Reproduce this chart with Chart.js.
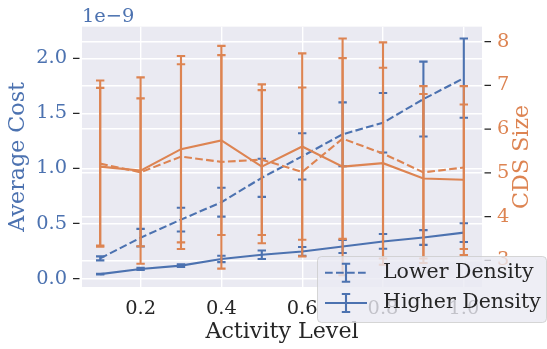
<!DOCTYPE html>
<html>
<head>
<meta charset="utf-8">
<script src="https://cdn.jsdelivr.net/npm/chart.js@4.4.1/dist/chart.umd.min.js"></script>
<style>
  html, body { margin: 0; padding: 0; background: #fff; }
  #wrap { width: 547px; height: 349px; }
</style>
</head>
<body>
<div id="wrap"><canvas id="dataPlot" width="547" height="349"></canvas></div>
<script>
const activityLevels = [0.1, 0.2, 0.3, 0.4, 0.5, 0.6, 0.7, 0.8, 0.9, 1.0];

// average cost, in units of 1e-9
const COST_UNIT = 1e-9;
const costLowerDensity    = [0.183, 0.371, 0.535, 0.693, 0.915, 1.11, 1.31, 1.415, 1.63, 1.82];
const costLowerDensityErr = [0.018, 0.08, 0.108, 0.131, 0.173, 0.21, 0.29, 0.27, 0.34, 0.36];
const costHigherDensity    = [0.04, 0.087, 0.117, 0.178, 0.216, 0.246, 0.291, 0.337, 0.373, 0.417];
const costHigherDensityErr = [0.004, 0.01, 0.012, 0.029, 0.038, 0.04, 0.059, 0.067, 0.067, 0.085];

// CDS size
const cdsLowerDensity    = [5.21, 5.01, 5.37, 5.25, 5.30, 5.02, 5.78, 5.44, 5.01, 5.12];
const cdsLowerDensityErr = [1.90, 1.69, 2.11, 2.44, 1.72, 1.93, 2.29, 2.54, 1.97, 1.86];
const cdsHigherDensity    = [5.14, 5.05, 5.54, 5.74, 5.14, 5.60, 5.14, 5.22, 4.87, 4.84];
const cdsHigherDensityErr = [1.80, 2.13, 2.13, 2.16, 1.75, 2.13, 2.48, 2.18, 1.93, 1.72];

const xTicks = [0.2, 0.4, 0.6, 0.8, 1.0];
const costTicks = [0, 0.5, 1.0, 1.5, 2.0];
const cdsTicks = [3, 4, 5, 6, 7, 8];

const BLUE = '#4C72B0';
const ORANGE = '#DD8452';
const INK = '#262626';
const SERIF = '"DejaVu Serif", serif';
const LW = 2.1;
const DASH = [7.7, 3.3];

const points = (ys, k) => activityLevels.map((x, i) => ({ x: x, y: ys[i] * k }));

// draw matplotlib-like error bars right after each line
const errorBars = {
  id: 'errorBars',
  afterDatasetDraw(chart, args) {
    const ds = chart.data.datasets[args.index];
    if (!ds.errors) return;
    const ctx = chart.ctx, a = chart.chartArea;
    const yScale = chart.scales[ds.yAxisID];
    ctx.save();
    ctx.beginPath();
    ctx.rect(a.left, a.top, a.right - a.left, a.bottom - a.top);
    ctx.clip();
    ctx.strokeStyle = ds.borderColor;
    ctx.lineWidth = LW;
    ctx.setLineDash([]);
    args.meta.data.forEach((pt, i) => {
      const v = ds.data[i].y, e = ds.errors[i];
      const top = yScale.getPixelForValue(v + e);
      const bot = yScale.getPixelForValue(v - e);
      ctx.beginPath();
      ctx.moveTo(pt.x, top); ctx.lineTo(pt.x, bot);
      ctx.moveTo(pt.x - 4.2, top); ctx.lineTo(pt.x + 4.2, top);
      ctx.moveTo(pt.x - 4.2, bot); ctx.lineTo(pt.x + 4.2, bot);
      ctx.stroke();
    });
    ctx.restore();
  }
};

const plotBackground = {
  id: 'plotBackground',
  beforeDraw(chart) {
    const ctx = chart.ctx, a = chart.chartArea;
    ctx.save();
    ctx.fillStyle = '#EAEAF2';
    ctx.fillRect(a.left, a.top, a.right - a.left, a.bottom - a.top);
    ctx.restore();
  }
};

function legendHandle(ctx, y, dashed) {
  ctx.strokeStyle = BLUE;
  ctx.lineWidth = LW;
  ctx.setLineDash(dashed ? DASH : []);
  ctx.beginPath();
  ctx.moveTo(325, y); ctx.lineTo(367, y);
  ctx.stroke();
  ctx.setLineDash([]);
  ctx.beginPath();
  ctx.moveTo(346, y - 9); ctx.lineTo(346, y + 9);
  ctx.moveTo(341.8, y - 9); ctx.lineTo(350.2, y - 9);
  ctx.moveTo(341.8, y + 9); ctx.lineTo(350.2, y + 9);
  ctx.stroke();
}

const decorations = {
  id: 'decorations',
  afterDraw(chart) {
    const ctx = chart.ctx;
    const left = chart.scales.yCost, right = chart.scales.yCds;
    ctx.save();
    // tick marks on the y axes
    ctx.strokeStyle = INK;
    ctx.lineWidth = 1.25;
    ctx.beginPath();
    left.ticks.forEach(t => {
      const y = left.getPixelForValue(t.value);
      ctx.moveTo(73, y); ctx.lineTo(79.5, y);
    });
    right.ticks.forEach(t => {
      const y = right.getPixelForValue(t.value);
      ctx.moveTo(484.5, y); ctx.lineTo(491, y);
    });
    ctx.stroke();

    // offset text
    ctx.fillStyle = BLUE;
    ctx.font = '19.4px ' + SERIF;
    ctx.textAlign = 'left';
    ctx.textBaseline = 'alphabetic';
    ctx.fillText('1e\u22129', 82, 22);

    // right axis title, reading bottom to top
    ctx.save();
    ctx.translate(522, (chart.chartArea.top + chart.chartArea.bottom) / 2);
    ctx.rotate(-Math.PI / 2);
    ctx.fillStyle = ORANGE;
    ctx.font = '22.2px ' + SERIF;
    ctx.textAlign = 'center';
    ctx.textBaseline = 'middle';
    ctx.fillText('CDS Size', 0, 0);
    ctx.restore();

    // legend
    ctx.globalAlpha = 0.8;
    ctx.fillStyle = '#EAEAF2';
    ctx.strokeStyle = '#CCCCCC';
    ctx.lineWidth = 1;
    ctx.beginPath();
    if (ctx.roundRect) ctx.roundRect(317.5, 256.5, 229, 66, 4);
    else ctx.rect(317.5, 256.5, 229, 66);
    ctx.fill();
    ctx.stroke();
    ctx.globalAlpha = 1;
    legendHandle(ctx, 272.7, true);
    legendHandle(ctx, 303, false);
    ctx.fillStyle = INK;
    ctx.font = '20.5px ' + SERIF;
    ctx.textAlign = 'left';
    ctx.textBaseline = 'middle';
    ctx.fillText('Lower Density', 383, 272.7);
    ctx.fillText('Higher Density', 383, 303);
    ctx.restore();
  }
};

const lineStyle = { borderWidth: LW, pointRadius: 0, fill: false, tension: 0 };

new Chart(document.getElementById('dataPlot'), {
  type: 'line',
  data: {
    datasets: [
      Object.assign({
        label: 'Lower Density',
        data: points(costLowerDensity, COST_UNIT),
        errors: costLowerDensityErr.map(v => v * COST_UNIT),
        yAxisID: 'yCost', borderColor: BLUE, borderDash: DASH, order: 2
      }, lineStyle),
      Object.assign({
        label: 'Higher Density',
        data: points(costHigherDensity, COST_UNIT),
        errors: costHigherDensityErr.map(v => v * COST_UNIT),
        yAxisID: 'yCost', borderColor: BLUE, order: 2
      }, lineStyle),
      Object.assign({
        label: 'Lower Density CDS',
        data: points(cdsLowerDensity, 1),
        errors: cdsLowerDensityErr,
        yAxisID: 'yCds', borderColor: ORANGE, borderDash: DASH, order: 1
      }, lineStyle),
      Object.assign({
        label: 'Higher Density CDS',
        data: points(cdsHigherDensity, 1),
        errors: cdsHigherDensityErr,
        yAxisID: 'yCds', borderColor: ORANGE, order: 1
      }, lineStyle)
    ]
  },
  options: {
    responsive: false,
    devicePixelRatio: 1,
    animation: false,
    layout: { padding: { top: 26, left: 0, right: 0, bottom: 0 } },
    plugins: { legend: { display: false }, tooltip: { enabled: false } },
    scales: {
      x: {
        type: 'linear', min: 0.055, max: 1.045,
        afterBuildTicks: s => { s.ticks = xTicks.map(v => ({ value: v })); },
        afterFit: s => { s.height = 62; },
        grid: { color: '#FFFFFF', lineWidth: 1.4, drawTicks: false },
        border: { display: false },
        ticks: {
          color: INK, font: { family: SERIF, size: 19.4 }, padding: 10,
          maxRotation: 0, autoSkip: false, callback: v => v.toFixed(1)
        },
        title: {
          display: true, text: 'Activity Level', color: INK,
          font: { family: SERIF, size: 22.2 }, padding: { top: 0, bottom: 3 }
        }
      },
      yCost: {
        position: 'left', min: -0.077e-9, max: 2.288e-9,
        afterBuildTicks: s => { s.ticks = costTicks.map(v => ({ value: v * COST_UNIT })); },
        afterFit: s => { s.width = 82; },
        grid: { color: '#FFFFFF', lineWidth: 1.4, drawTicks: false },
        border: { display: false },
        ticks: {
          color: BLUE, font: { family: SERIF, size: 19.4 }, padding: 15,
          autoSkip: false, callback: v => (v / COST_UNIT).toFixed(1)
        },
        title: {
          display: true, text: 'Average Cost', color: BLUE,
          font: { family: SERIF, size: 22.2 }, padding: { top: 5, bottom: 0 }
        }
      },
      yCds: {
        position: 'right', min: 2.39, max: 8.34,
        afterBuildTicks: s => { s.ticks = cdsTicks.map(v => ({ value: v })); },
        afterFit: s => { s.width = 65; },
        grid: { color: '#FFFFFF', lineWidth: 1.4, drawTicks: false },
        border: { display: false },
        ticks: {
          color: ORANGE, font: { family: SERIF, size: 19.4 }, padding: 15,
          autoSkip: false, callback: v => String(v)
        }
      }
    }
  },
  plugins: [plotBackground, errorBars, decorations]
});
</script>
</body>
</html>
